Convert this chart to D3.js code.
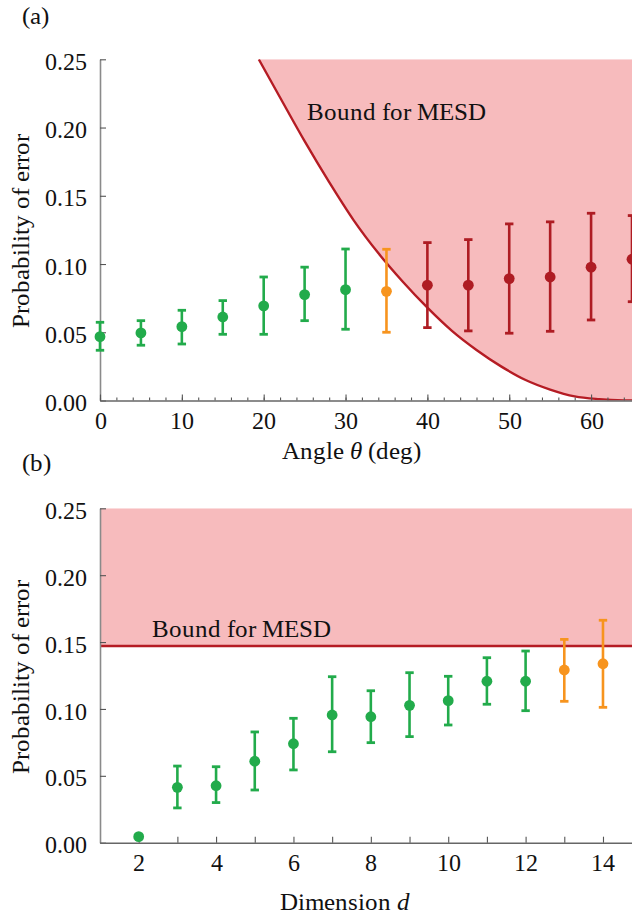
<!DOCTYPE html>
<html>
<head>
<meta charset="utf-8">
<script src="https://cdn.jsdelivr.net/npm/d3@7"></script>
<style>
  @font-face {
    font-family: "FigSerif";
    src: local("Liberation Serif"), local("LiberationSerif"), local("LiberationSerif-Regular"),
         local("DejaVu Serif"), local("DejaVuSerif"), local("Noto Serif"), local("NotoSerif-Regular");
    font-style: normal;
  }
  @font-face {
    font-family: "FigSerif";
    src: local("Liberation Serif Italic"), local("LiberationSerif-Italic"),
         local("DejaVu Serif Italic"), local("DejaVuSerif-Italic"), local("NotoSerif-Italic");
    font-style: italic;
  }
  html, body { margin: 0; padding: 0; background: #fff; }
  svg { display: block; }
</style>
</head>
<body>
<svg id="fig" width="632" height="920"></svg>
<script>
// ---- Panel (a): error probability vs. angle ----
const thetaDeg = [0, 5, 10, 15, 20, 25, 30, 35, 40, 45, 50, 55, 60, 65];
const errA  = [0.0468, 0.0495, 0.0541, 0.0612, 0.0693, 0.0776, 0.0812, 0.0800, 0.0845, 0.0845, 0.0893, 0.0905, 0.0977, 0.1035];
const lowA  = [0.0368, 0.0405, 0.0414, 0.0485, 0.0485, 0.0585, 0.0522, 0.0500, 0.0534, 0.0510, 0.0493, 0.0507, 0.0590, 0.0724];
const highA = [0.0573, 0.0585, 0.0661, 0.0732, 0.0905, 0.0977, 0.1110, 0.1108, 0.1157, 0.1179, 0.1294, 0.1309, 0.1372, 0.1355];
const classA = ["ok","ok","ok","ok","ok","ok","ok","edge","over","over","over","over","over","over"];

// MESD bound as a function of angle
const boundTheta = [19.4, 22, 25, 28, 31, 34, 37, 40, 43, 46, 49, 52, 55, 58, 61, 64, 65];
const boundValA  = [0.250, 0.222, 0.190, 0.160, 0.132, 0.108, 0.087, 0.068, 0.051, 0.037, 0.025, 0.015, 0.008, 0.003, 0.001, 0.0001, 0.0];

// ---- Panel (b): error probability vs. dimension ----
const dims  = [2, 3, 4, 5, 6, 7, 8, 9, 10, 11, 12, 13, 14];
const errB  = [0.0045, 0.0414, 0.0426, 0.0609, 0.0740, 0.0955, 0.0942, 0.1027, 0.1062, 0.1207, 0.1207, 0.1291, 0.1338];
const lowB  = [0.0045, 0.0260, 0.0300, 0.0394, 0.0544, 0.0680, 0.0748, 0.0793, 0.0880, 0.1035, 0.0987, 0.1057, 0.1012];
const highB = [0.0045, 0.0573, 0.0568, 0.0828, 0.0930, 0.1241, 0.1136, 0.1271, 0.1244, 0.1383, 0.1433, 0.1520, 0.1663];
const classB = ["ok","ok","ok","ok","ok","ok","ok","ok","ok","ok","ok","edge","edge"];
const boundValB = 0.147;

const yTicks = [0, 0.05, 0.10, 0.15, 0.20, 0.25];
const xTicksA = [0, 10, 20, 30, 40, 50, 60];
const xTicksB = [2, 4, 6, 8, 10, 12, 14];

const colors = { ok: "#22ab4b", edge: "#f7941e", over: "#ae1c23" };
const fillPink = "#f7bbbd";
const boundRed = "#b51c24";
const serif = "FigSerif, Liberation Serif, DejaVu Serif, Noto Serif, Times New Roman, serif";

const svg = d3.select("#fig");

function label(sel, size) {
  return sel.attr("font-family", serif).style("font-family", serif)
    .style("font-size", size + "px").attr("fill", "#111");
}

function panel(opts) {
  const g = svg.append("g");
  const x = d3.scaleLinear().domain(opts.xDomain).range([100, 632]);
  const y = d3.scaleLinear().domain([0, 0.25]).range(opts.yRange);
  const clipId = "clip-" + opts.id;
  g.append("clipPath").attr("id", clipId)
    .append("rect").attr("x", 100).attr("y", y(0.25)).attr("width", 532).attr("height", y(0) - y(0.25));

  // shaded region above the bound
  const plot = g.append("g").attr("clip-path", `url(#${clipId})`);
  opts.drawBound(plot, x, y);

  // axes
  const yAxis = d3.axisLeft(y).tickValues(yTicks).tickFormat(d3.format(".2f"))
    .tickSizeInner(-6).tickSizeOuter(0).tickPadding(13);
  const ya = g.append("g").attr("transform", "translate(100,0)").call(yAxis);
  ya.select(".domain").attr("stroke", "#8a8a8a").attr("stroke-width", 1.6);
  ya.selectAll(".tick line").attr("stroke", "#555").attr("stroke-width", 1.1);
  label(ya.selectAll(".tick text").attr("dy", "0.42em"), 24);

  if (opts.minorX) {
    const minor = d3.axisBottom(x).tickValues(opts.minorX).tickFormat("").tickSizeInner(-3).tickSizeOuter(0);
    const mi = g.append("g").attr("transform", `translate(0,${y(0)})`).call(minor);
    mi.select(".domain").remove();
    mi.selectAll(".tick line").attr("stroke", "#555").attr("stroke-width", 1.1);
  }
  const xAxis = d3.axisBottom(x).tickValues(opts.majorX).tickFormat(opts.xFormat)
    .tickSizeInner(-6).tickSizeOuter(0).tickPadding(11);
  const xa = g.append("g").attr("transform", `translate(0,${y(0)})`).call(xAxis);
  xa.select(".domain").attr("stroke", "#666").attr("stroke-width", 1.6);
  xa.selectAll(".tick line").attr("stroke", "#555").attr("stroke-width", 1.1);
  label(xa.selectAll(".tick text"), 24);

  // error bars and points
  const pts = opts.xs.map((v, i) => ({ x: v, y: opts.ys[i], lo: opts.lo[i], hi: opts.hi[i], c: colors[opts.cls[i]] }));
  const eb = g.append("g").selectAll("g").data(pts).join("g");
  eb.filter(d => d.hi > d.lo).append("line")
    .attr("x1", d => x(d.x)).attr("x2", d => x(d.x))
    .attr("y1", d => y(d.lo)).attr("y2", d => y(d.hi))
    .attr("stroke", d => d.c).attr("stroke-width", 2.6);
  ["lo", "hi"].forEach(k => {
    eb.filter(d => d.hi > d.lo).append("line")
      .attr("x1", d => x(d.x) - 4.2).attr("x2", d => x(d.x) + 4.2)
      .attr("y1", d => y(d[k])).attr("y2", d => y(d[k]))
      .attr("stroke", d => d.c).attr("stroke-width", 2.8);
  });
  eb.append("circle").attr("cx", d => x(d.x)).attr("cy", d => y(d.y)).attr("r", 5.4).attr("fill", d => d.c);

  // labels
  label(g.append("text").attr("x", 22).attr("y", opts.tagY), 25).text(opts.tag);
  label(g.append("text")
    .attr("transform", `translate(29,${opts.yLabelY}) rotate(-90)`)
    .attr("text-anchor", "middle"), 25).text("Probability of error");
  const xl = label(g.append("text").attr("x", opts.xLabelX).attr("y", opts.xLabelY)
    .attr("text-anchor", "middle"), 25);
  opts.xLabel(xl);
  return { x, y };
}

// (a)
panel({
  id: "a", tag: "(a)", tagY: 24,
  xDomain: [0, 65], yRange: [400.5, 59.3],
  xs: thetaDeg, ys: errA, lo: lowA, hi: highA, cls: classA,
  majorX: xTicksA, minorX: d3.range(0, 66, 2), xFormat: d3.format("d"),
  yLabelY: 231, xLabelX: 351, xLabelY: 459,
  xLabel: t => {
    t.append("tspan").text("Angle ");
    t.append("tspan").style("font-style", "italic").text("θ");
    t.append("tspan").text(" (deg)");
  },
  drawBound: (plot, x, y) => {
    const pts = boundTheta.map((t, i) => [t, boundValA[i]]);
    const area = d3.area().x(d => x(d[0])).y0(y(0.25)).y1(d => y(d[1])).curve(d3.curveMonotoneX);
    plot.append("path").datum(pts).attr("d", area).attr("fill", fillPink);
    const line = d3.line().x(d => x(d[0])).y(d => y(d[1])).curve(d3.curveMonotoneX);
    plot.append("path").datum(pts).attr("d", line).attr("fill", "none")
      .attr("stroke", boundRed).attr("stroke-width", 2.4);
    label(plot.append("text").attr("x", 307).attr("y", 120), 25).text("Bound for MESD");
  }
});

// (b)
panel({
  id: "b", tag: "(b)", tagY: 471,
  xDomain: [1, 14.75], yRange: [842.7, 508.3],
  xs: dims, ys: errB, lo: lowB, hi: highB, cls: classB,
  majorX: d3.range(2, 15, 1), minorX: null,
  xFormat: d => (xTicksB.includes(d) ? String(d) : ""),
  yLabelY: 677, xLabelX: 345, xLabelY: 910,
  xLabel: t => {
    t.append("tspan").text("Dimension ");
    t.append("tspan").style("font-style", "italic").text("d");
  },
  drawBound: (plot, x, y) => {
    plot.append("rect").attr("x", x(1)).attr("width", x(14.75) - x(1))
      .attr("y", y(0.25)).attr("height", y(boundValB) - y(0.25)).attr("fill", fillPink);
    plot.append("line").attr("x1", x(1)).attr("x2", x(14.75))
      .attr("y1", y(boundValB)).attr("y2", y(boundValB))
      .attr("stroke", boundRed).attr("stroke-width", 2.4);
    label(plot.append("text").attr("x", 152).attr("y", 637), 25).text("Bound for MESD");
  }
});
</script>
</body>
</html>
